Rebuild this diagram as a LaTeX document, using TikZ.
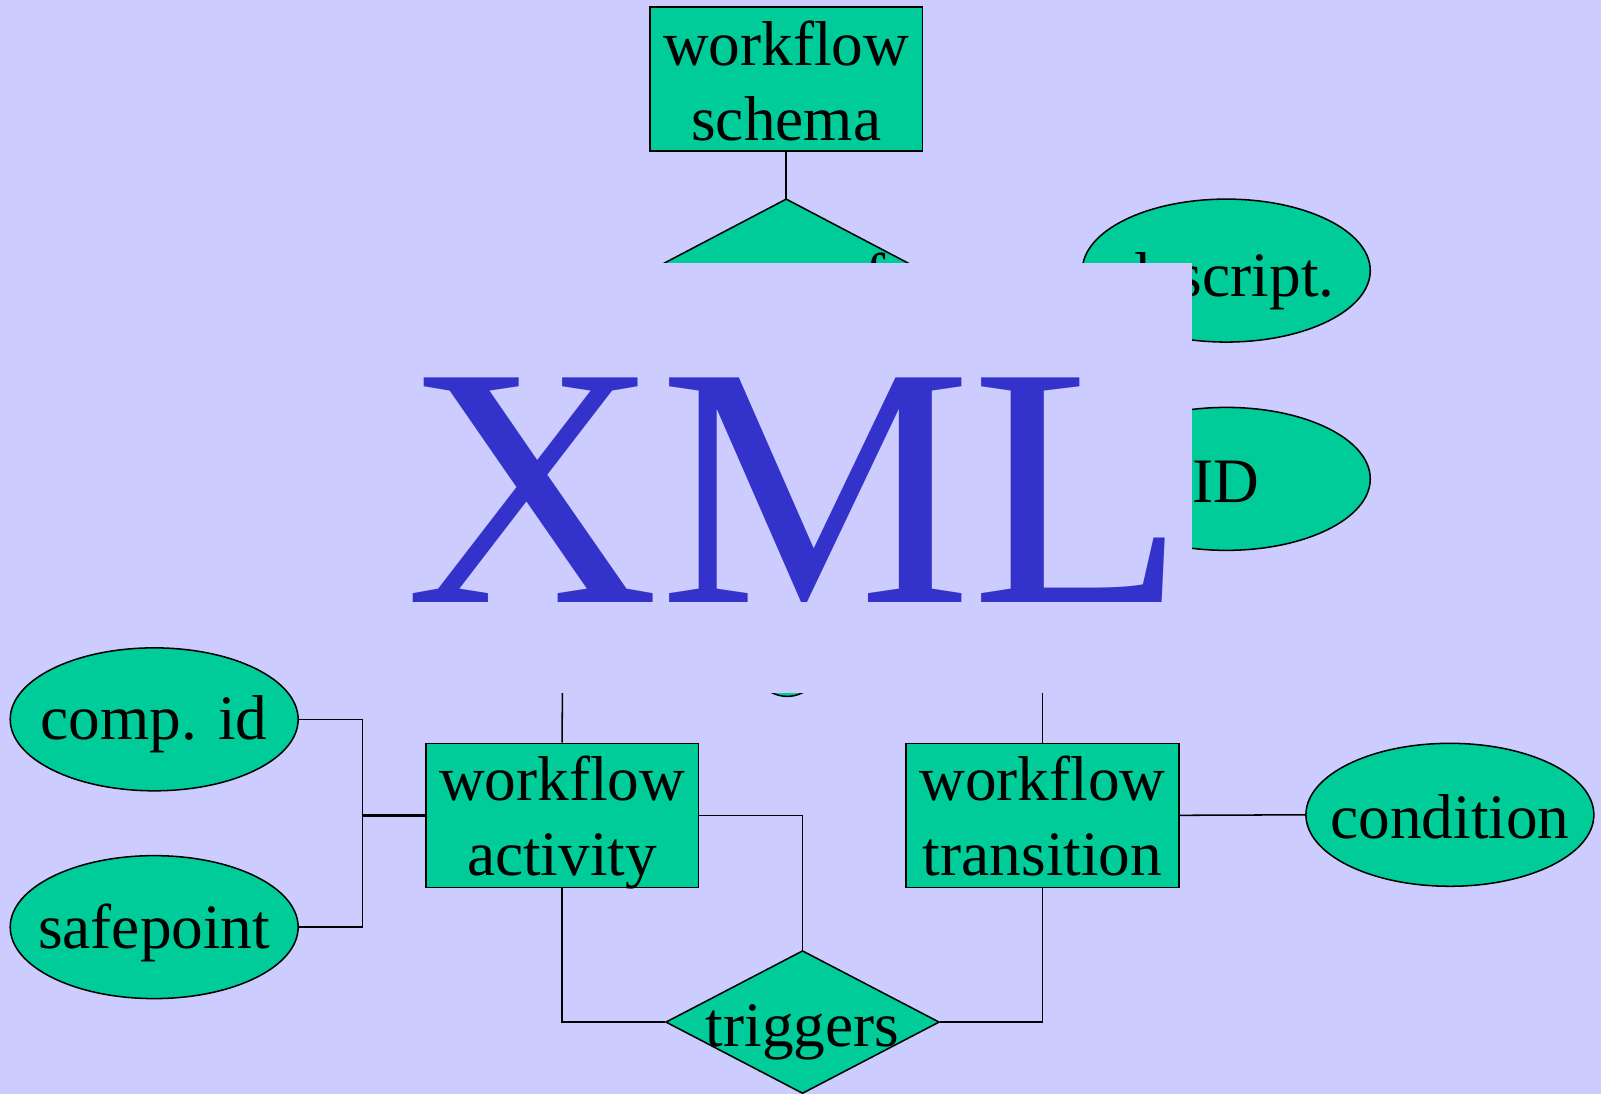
\documentclass[tikz,border=0pt]{standalone}
\usepackage{fontspec}
\setmainfont{Liberation Serif}
\usetikzlibrary{shapes.geometric}
\definecolor{bgc}{HTML}{CCCCFF}
\definecolor{entgreen}{HTML}{00CC99}
\definecolor{xmlblue}{HTML}{3333CC}
\newcommand{\tworows}[2]{\begin{tabular}[t]{@{}c@{}}#1\\#2\end{tabular}}
\tikzset{
  entbase/.style={draw=black, fill=entgreen, line width=0.75pt, inner sep=0pt},
  boxent/.style={entbase, rectangle, minimum width=133.5pt, minimum height=70.5pt},
  attrent/.style={entbase, ellipse, minimum width=141pt, minimum height=70pt},
  conn/.style={draw=black, line width=0.75pt},
  lbl/.style={font=\fontsize{31}{36.75}\selectfont, inner sep=0pt, anchor=base}
}
\begin{document}
\begin{tikzpicture}[x=0.5pt,y=-0.5pt]
\fill[bgc] (0,0) rectangle (1568,1071.4);
\useasboundingbox (0,0) rectangle (1568,1071.4);
% parts that the XML patch hides
\coordinate (tri) at (770,195);
\coordinate (tril) at (530,321);
\coordinate (trir) at (1010,321);
\filldraw[fill=entgreen, draw=black, line width=0.75pt] (tri) -- (trir) -- (tril) -- cycle;
\node[lbl] (trilabel) at (857,291) {f};
\node[attrent] (desc) at (1201,265) {};
\node[lbl] (desclabel) at (1201,290.5) {descript.};
\node[attrent] (id) at (1201,469) {};
\node[lbl] (idlabel) at (1201,492) {ID};
\node[entbase, ellipse, minimum width=30pt, minimum height=27pt] (hidden) at (771,655) {};
\coordinate (ha) at (551,640);
\coordinate (ht) at (1021,640);
% visible nodes
\node[boxent] (schema) at (770,77.5) {};
\node[lbl] (schemalabel) at (770,63.7) {\tworows{workflow}{schema}};
\node[boxent] (activity) at (550.5,798.5) {};
\node[lbl] (activitylabel) at (550.5,783.5) {\tworows{workflow}{activity}};
\node[boxent] (transition) at (1021,798.5) {};
\node[lbl] (transitionlabel) at (1021,783.5) {\tworows{workflow}{transition}};
\node[attrent] (compid) at (151,704.5) {};
\node[lbl] (compidlabel) at (151,724.7) {comp. id};
\node[attrent] (safe) at (151,908) {};
\node[lbl] (safelabel) at (151,929) {safepoint};
\node[attrent] (cond) at (1420,798) {};
\node[lbl] (condlabel) at (1420,821) {condition};
\node[entbase, diamond, minimum width=134pt, minimum height=70pt] (trig) at (786,1001) {};
\node[lbl] (triglabel) at (786,1025) {triggers};
\coordinate (j1) at (355,798.5);
% connectors
\draw[conn] (schema.south) -- (tri);
\draw[conn] (ha) -- (activity.north);
\draw[conn] (ht) -- (transition.north);
\draw[conn] (compid.east) -| (j1);
\draw[conn] (safe.east) -| (j1);
\draw[conn, line width=1.2pt] (j1) -- (activity.west);
\draw[conn] (activity.east) -| (trig.north);
\draw[conn] (activity.south) |- (trig.west);
\draw[conn] (trig.east) -| (transition.south);
\draw[conn] (transition.east) -- (cond.west);
% covering patch with XML
\fill[bgc] (380,258) rectangle (1167,679);
\node[anchor=base, text=xmlblue, font=\fontsize{168}{168}\selectfont, inner sep=0pt, xscale=1.025] (xml) at (779.5,590) {XML};
\end{tikzpicture}
\end{document}
